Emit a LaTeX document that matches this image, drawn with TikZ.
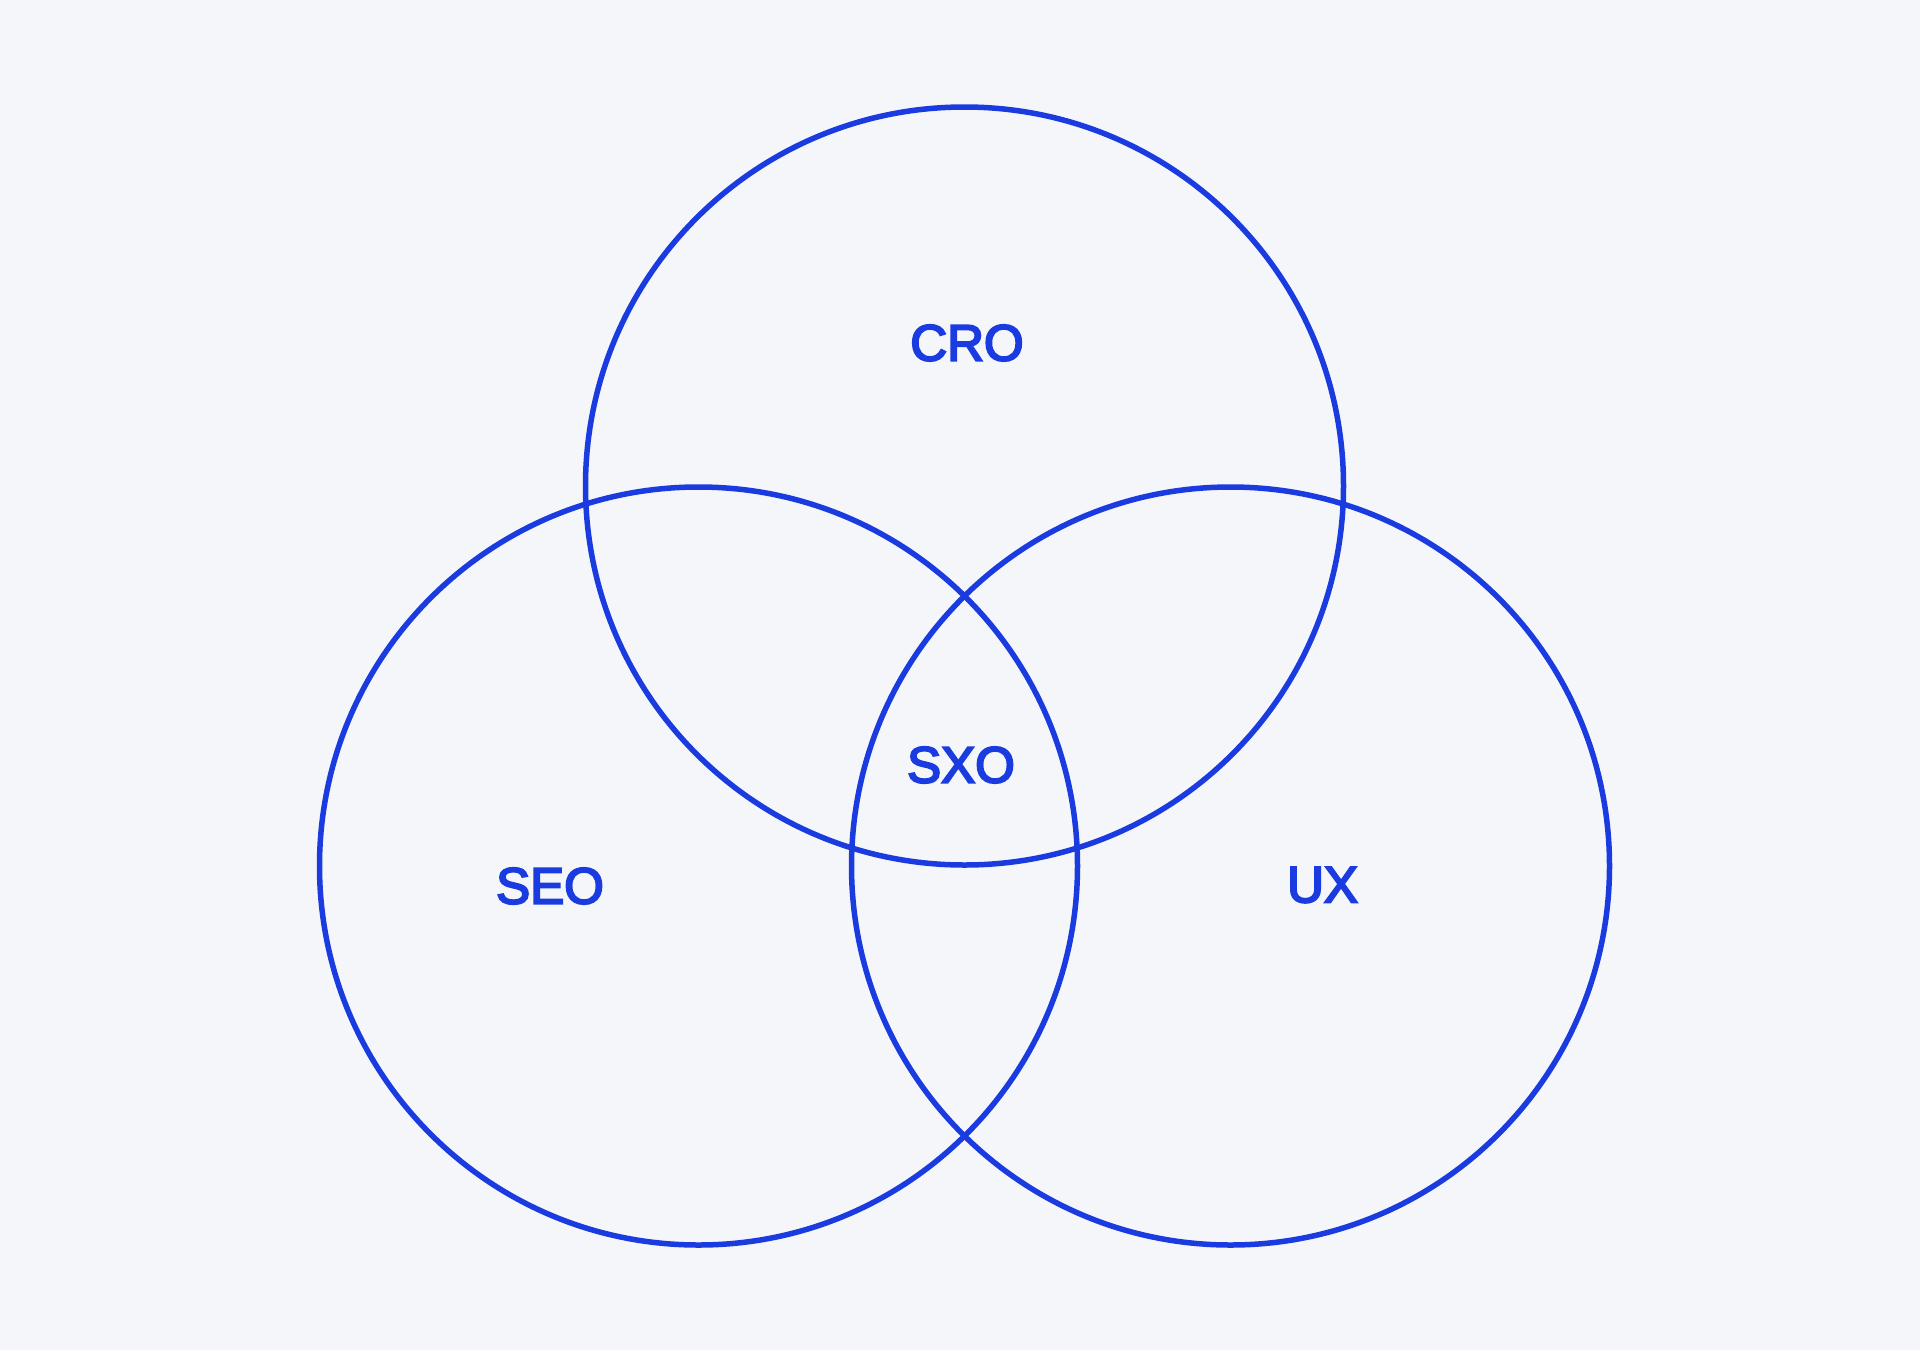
\documentclass[tikz,border=0pt]{standalone}
\usepackage{fontspec}
\setmainfont{Liberation Sans}
\newfontfamily\medfont[FakeBold=4]{Liberation Sans}
\definecolor{bg}{HTML}{F5F6F9}
\definecolor{vblue}{HTML}{1A3BE0}
\begin{document}
\begin{tikzpicture}[x=1pt,y=-1pt,
  ring/.style={draw=vblue,line width=5.5pt},
  lbl/.style={text=vblue,font=\medfont\fontsize{51}{51}\selectfont,inner sep=0pt,anchor=center}]
\fill[bg] (0,0) rectangle (1920,1350);
\useasboundingbox (0,0) rectangle (1920,1350);
\coordinate (ccro) at (964.5,486);
\coordinate (cseo) at (698.5,866);
\coordinate (cux) at (1230.5,866);
\draw[ring] (ccro) circle[radius=379pt];
\draw[ring] (cseo) circle[radius=379pt];
\draw[ring] (cux) circle[radius=379pt];
\node[lbl] (cro) at (967,343) {CRO};
\node[lbl] (sxo) at (961,765) {SXO};
\node[lbl] (seo) at (550,886) {SEO};
\node[lbl] (ux) at (1322.5,885) {UX};
\end{tikzpicture}
\end{document}
